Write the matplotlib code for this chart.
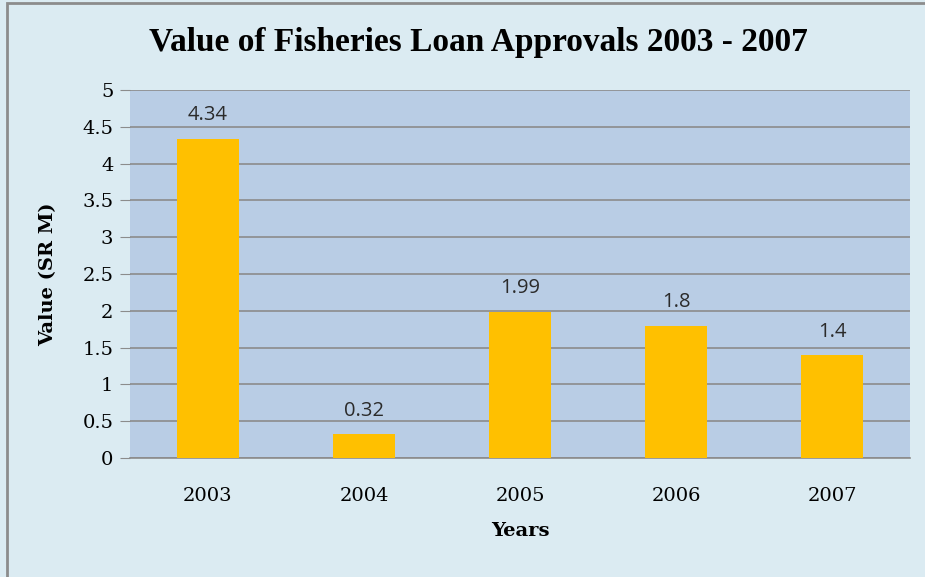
import numpy as np
import matplotlib.pyplot as plt
from matplotlib.patches import Rectangle

years = ['2003', '2004', '2005', '2006', '2007']
values = [4.34, 0.32, 1.99, 1.8, 1.4]
value_labels = ['4.34', '0.32', '1.99', '1.8', '1.4']
y_ticks = [0, 0.5, 1, 1.5, 2, 2.5, 3, 3.5, 4, 4.5, 5]
y_tick_labels = ['0', '0.5', '1', '1.5', '2', '2.5', '3', '3.5', '4', '4.5', '5']

W, H = 925, 577
fig = plt.figure(figsize=(W / 100, H / 100), dpi=100)
fig.patch.set_facecolor('#dbebf2')

# chart frame
fig.patches.append(Rectangle((7 / W, -0.1), 1.2, 1 - 3 / H + 0.1,
                             transform=fig.transFigure, fill=False,
                             edgecolor='#8c8c8c', lw=2))

ax = fig.add_axes([130 / W, 1 - 458 / H, 780 / W, 368 / H])
ax.set_facecolor('#b9cde5')

x = np.arange(len(years))
ax.bar(x, values, width=0.40, color='#ffc000', zorder=3)

for xi, v, lab in zip(x, values, value_labels):
    ax.text(xi, v + 0.18, lab, ha='center', va='bottom', fontsize=14.5,
            family='Open Sans', color='#2b2b2b')

serif = 'DejaVu Serif'
ax.set_xlim(-0.5, len(years) - 0.5)
ax.set_ylim(0, 5)
ax.set_yticks(y_ticks)
ax.set_yticklabels(y_tick_labels, family=serif, fontsize=14)
ax.set_xticks(x)
ax.set_xticklabels(years, family=serif, fontsize=14)
ax.tick_params(axis='x', length=0, pad=21)
ax.tick_params(axis='y', length=7, color='#8c8c8c', pad=5)
ax.grid(axis='y', color='#8c8c8c', lw=1.2, zorder=1)
for side in ['top', 'right', 'left']:
    ax.spines[side].set_visible(False)
ax.spines['bottom'].set_color('#8c8c8c')
ax.spines['bottom'].set_linewidth(1.2)

ax.set_xlabel('Years', family=serif, fontweight='bold', fontsize=14, labelpad=12)
ax.set_ylabel('Value (SR M)', family=serif, fontweight='bold', fontsize=14, labelpad=18)

fig.text(478 / W, 1 - 42 / H, 'Value of Fisheries Loan Approvals 2003 - 2007',
         ha='center', va='center', family='Liberation Serif', fontweight='bold',
         fontsize=24)

fig.savefig('out.png', dpi=100, facecolor=fig.get_facecolor())
